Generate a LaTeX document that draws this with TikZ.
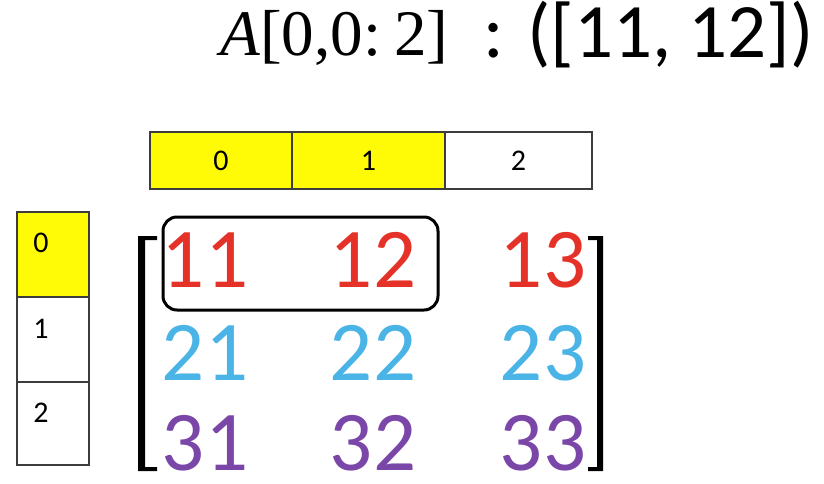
\documentclass[tikz,border=0pt]{standalone}
\usepackage{fontspec}
\newfontfamily\calfont{Carlito}
\newfontfamily\serfont{Liberation Serif}
\definecolor{hl}{RGB}{255,250,5}
\definecolor{rowA}{RGB}{229,50,40}
\definecolor{rowB}{RGB}{75,180,230}
\definecolor{rowC}{RGB}{122,70,168}
\definecolor{edge}{RGB}{60,60,60}
\tikzset{
  cell/.style={draw=edge, line width=1.5pt, inner sep=0pt, font=\calfont\fontsize{30}{30}\selectfont},
  idx/.style={inner sep=0pt, font=\calfont\fontsize{30}{30}\selectfont},
  entry/.style={inner sep=0pt, anchor=base, font=\calfont\fontsize{85}{85}\selectfont},
  selbox/.style={draw=black, line width=3pt, rounded corners=14pt, inner sep=0pt}
}
\begin{document}
\begin{tikzpicture}[x=1pt,y=-1pt]
\useasboundingbox (0,0) rectangle (824,484);
% title
\node[inner sep=0pt, anchor=base west, font=\serfont\fontsize{65}{65}\selectfont] (tl) at (220,56) {\textit{A}[0,0:\hspace{0.2em}2]};
\node[inner sep=0pt, anchor=base east, font=\calfont\fontsize{77}{77}\selectfont] (tr) at (814,58) {: ([11, 12])};
% column index boxes
\node[cell, fill=hl, minimum width=142pt, minimum height=57pt] (c0) at (221,160.5) {0};
\node[cell, fill=hl, minimum width=153pt, minimum height=57pt] (c1) at (368.5,160.5) {1};
\node[cell, fill=white, minimum width=147pt, minimum height=57pt] (c2) at (518.5,160.5) {2};
% row index boxes
\node[cell, fill=hl, minimum width=72pt, minimum height=85pt] (r0) at (53,254.5) {};
\node[cell, fill=white, minimum width=72pt, minimum height=85pt] (r1) at (53,339.5) {};
\node[cell, fill=white, minimum width=72pt, minimum height=83pt] (r2) at (53,423.5) {};
\node[idx] (r0l) at (41,243) {0};
\node[idx] (r1l) at (41,329) {1};
\node[idx] (r2l) at (41,412.5) {2};
% brackets
\fill[black] (138,236) -- (157,236) -- (157,240) -- (145,240) -- (145,467) -- (157,467) -- (157,471) -- (138,471) -- cycle;
\fill[black] (603,236) -- (588,236) -- (588,240) -- (597,240) -- (597,467) -- (588,467) -- (588,471) -- (603,471) -- cycle;
% entries
\node[entry, text=rowA] (m11) at (205,287) {11};
\node[entry, text=rowA] (m12) at (373,287) {12};
\node[entry, text=rowA] (m13) at (543,287) {13};
\node[entry, text=rowB] (m21) at (205,380) {21};
\node[entry, text=rowB] (m22) at (373,380) {22};
\node[entry, text=rowB] (m23) at (543,380) {23};
\node[entry, text=rowC] (m31) at (205,470) {31};
\node[entry, text=rowC] (m32) at (373,470) {32};
\node[entry, text=rowC] (m33) at (543,470) {33};
% selection
\node[selbox, minimum width=275pt, minimum height=93pt] (sel) at (300.5,263.5) {};
\end{tikzpicture}
\end{document}
